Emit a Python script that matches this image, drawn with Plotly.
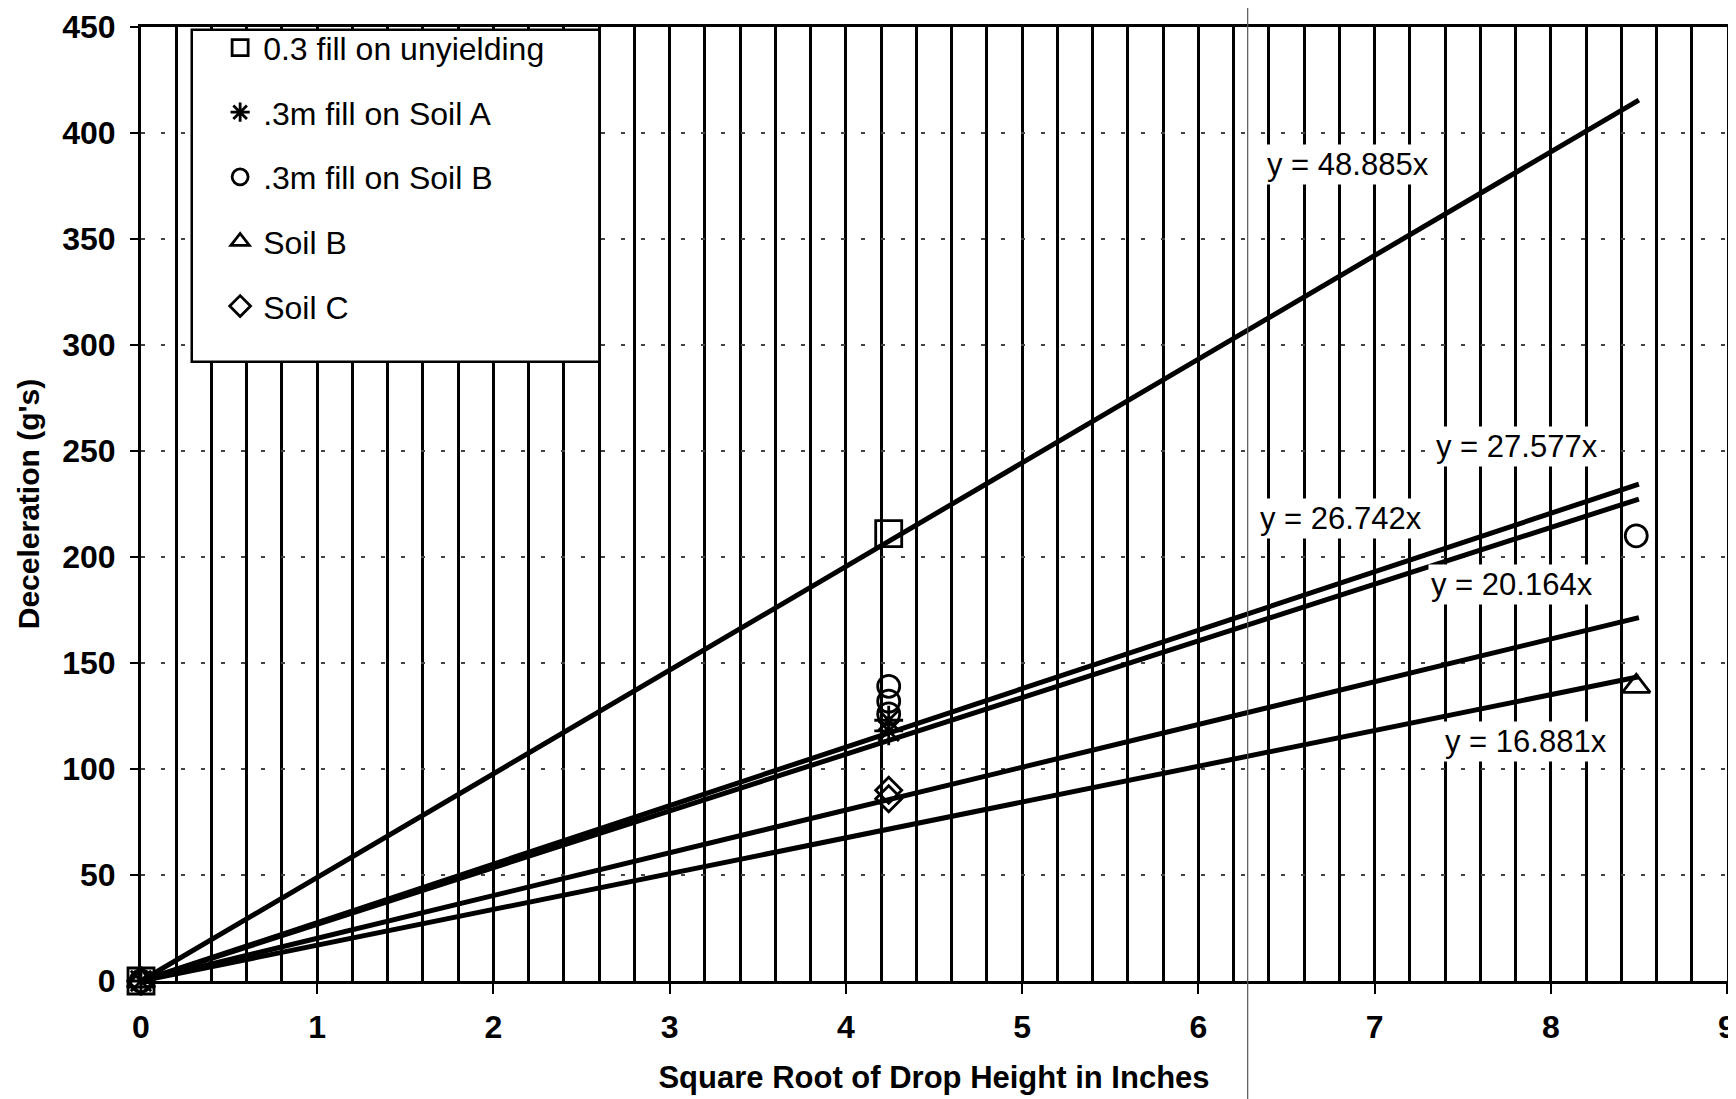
import plotly.graph_objects as go

# ---- data ----
x_mid = 4.243   # sqrt(18)
x_hi = 8.485    # sqrt(72)

unyield_x = [0, x_mid]
unyield_y = [0, 211]

soilA_x = [0, x_mid, x_mid]
soilA_y = [0, 123, 118]

fillB_x = [0, x_mid, x_mid, x_mid, x_hi]
fillB_y = [0, 139, 132, 126, 210]

soilB_x = [0, x_hi]
soilB_y = [0, 139]

soilC_x = [0, x_mid, x_mid]
soilC_y = [0, 90, 86]

trend_slopes = [48.885, 27.577, 26.742, 20.164, 16.881]
trend_x_end = 8.5
trend_labels = ["y = 48.885x", "y = 27.577x", "y = 26.742x", "y = 20.164x", "y = 16.881x"]
label_x = [6.85, 7.81, 6.81, 7.78, 7.86]
label_y = [385, 252, 218, 187, 113]

series = [
    ("0.3 fill on unyielding", unyield_x, unyield_y, "square-open", 26),
    (".3m fill on Soil A", soilA_x, soilA_y, "asterisk-open", 24),
    (".3m fill on Soil B", fillB_x, fillB_y, "circle-open", 22),
    ("Soil B", soilB_x, soilB_y, "triangle-up-open", 24),
    ("Soil C", soilC_x, soilC_y, "diamond-open", 20),
]

FONT = "Liberation Sans, Arial, sans-serif"

fig = go.Figure()

# trendlines
for s in trend_slopes:
    fig.add_trace(go.Scatter(
        x=[0, trend_x_end], y=[0, s * trend_x_end], mode="lines",
        line=dict(color="black", width=5), showlegend=False, hoverinfo="skip"))

# data series
for i, (name, xs, ys, sym, sz) in enumerate(series):
    fig.add_trace(go.Scatter(
        x=xs, y=ys, mode="markers", name=name, legendgroup=f"g{i}",
        marker=dict(symbol=sym, size=sz, color="black",
                    line=dict(color="black", width=2.8)),
        cliponaxis=False))

for txt, lx, ly in zip(trend_labels, label_x, label_y):
    fig.add_annotation(x=lx, y=ly, text=txt, showarrow=False,
                       font=dict(family=FONT, size=31, color="black"),
                       bgcolor="white", borderpad=2)

# legend box
fig.add_shape(type="rect", xref="paper", yref="paper",
              x0=0.032, x1=0.289, y0=0.649, y1=0.997,
              line=dict(color="black", width=2.5), fillcolor="white", layer="above")

# scan fold line
fig.add_shape(type="line", xref="x", yref="paper", x0=6.28, x1=6.28, y0=-0.14, y1=1.02,
              line=dict(color="#555", width=1.2), layer="above")

fig.update_layout(
    width=1736, height=1099,
    margin=dict(l=133, r=17, t=19, b=126),
    paper_bgcolor="white", plot_bgcolor="white",
    font=dict(family=FONT, color="black"),
    showlegend=True,
    legend=dict(x=0.048, y=1.007, xanchor="left", yanchor="top",
                bgcolor="rgba(0,0,0,0)", borderwidth=0,
                font=dict(family=FONT, size=32, color="black"),
                tracegroupgap=20, traceorder="grouped", itemsizing="trace",
                itemwidth=36),
    xaxis=dict(
        range=[0, 9], dtick=1, tick0=0, automargin=False,
        showgrid=True, gridcolor="black", gridwidth=2.6,
        minor=dict(dtick=0.2, tick0=0, showgrid=True, gridcolor="black", gridwidth=2.6),
        showline=True, linecolor="black", linewidth=3, mirror=True,
        ticks="outside", ticklen=10, tickwidth=2, tickcolor="black",
        tickfont=dict(family=FONT, size=32, color="black", weight="bold"),
        ticklabelstandoff=6, ticklabeloverflow="allow",
        zeroline=False,
        title=dict(text="<b>Square Root of Drop Height in Inches</b>",
                   font=dict(family=FONT, size=31, color="black"), standoff=22),
    ),
    yaxis=dict(
        range=[0, 450], dtick=50, tick0=0, automargin=False,
        showgrid=True, gridcolor="#444", gridwidth=1.5, griddash="4px,16px",
        showline=True, linecolor="black", linewidth=3, mirror=True,
        ticks="outside", ticklen=8, tickwidth=2, tickcolor="black",
        tickfont=dict(family=FONT, size=32, color="black", weight="bold"),
        ticklabelstandoff=8, ticklabeloverflow="allow",
        zeroline=False,
        title=dict(text="<b>Deceleration (g's)</b>",
                   font=dict(family=FONT, size=30, color="black"), standoff=14),
    ),
)

fig.write_html("out.html")
